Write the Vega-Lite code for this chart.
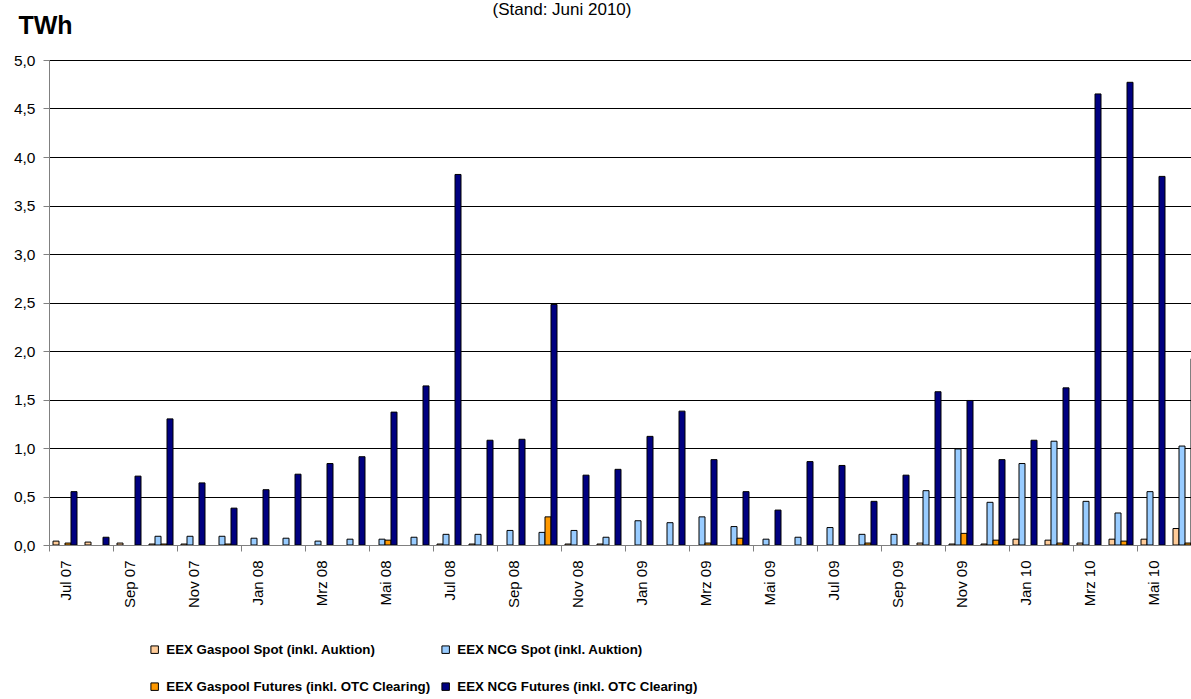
{
  "$schema": "https://vega.github.io/schema/vega-lite/v6.json",
  "width": 1142,
  "height": 485,
  "autosize": {"type": "none"},
  "padding": {"left": 49, "top": 60, "right": 0, "bottom": 154},
  "background": "white",
  "config": {"view": {"stroke": null}},
  "title": {"text": "(Stand: Juni 2010)", "fontSize": 17, "font": "Liberation Sans", "fontWeight": "normal", "color": "black", "anchor": "middle", "frame": "group", "dx": -58, "dy": 28, "offset": 5, "baseline": "bottom"},
  "data": {"values": [
    {"Monat": "Jul 07", "GS": 0.04, "NS": null, "GF": 0.02, "NF": 0.55},
    {"Monat": "Aug 07", "GS": 0.03, "NS": null, "GF": null, "NF": 0.08},
    {"Monat": "Sep 07", "GS": 0.02, "NS": null, "GF": null, "NF": 0.71},
    {"Monat": "Okt 07", "GS": 0.01, "NS": 0.09, "GF": 0.01, "NF": 1.30},
    {"Monat": "Nov 07", "GS": 0.01, "NS": 0.09, "GF": null, "NF": 0.64},
    {"Monat": "Dez 07", "GS": null, "NS": 0.09, "GF": 0.01, "NF": 0.38},
    {"Monat": "Jan 08", "GS": null, "NS": 0.07, "GF": null, "NF": 0.57},
    {"Monat": "Feb 08", "GS": null, "NS": 0.07, "GF": null, "NF": 0.73},
    {"Monat": "Mrz 08", "GS": null, "NS": 0.04, "GF": null, "NF": 0.84},
    {"Monat": "Apr 08", "GS": null, "NS": 0.06, "GF": null, "NF": 0.91},
    {"Monat": "Mai 08", "GS": null, "NS": 0.06, "GF": 0.05, "NF": 1.37},
    {"Monat": "Jun 08", "GS": null, "NS": 0.08, "GF": null, "NF": 1.64},
    {"Monat": "Jul 08", "GS": 0.01, "NS": 0.11, "GF": null, "NF": 3.82},
    {"Monat": "Aug 08", "GS": 0.01, "NS": 0.11, "GF": null, "NF": 1.08},
    {"Monat": "Sep 08", "GS": null, "NS": 0.15, "GF": null, "NF": 1.09},
    {"Monat": "Okt 08", "GS": null, "NS": 0.13, "GF": 0.29, "NF": 2.48},
    {"Monat": "Nov 08", "GS": 0.01, "NS": 0.15, "GF": null, "NF": 0.72},
    {"Monat": "Dez 08", "GS": 0.01, "NS": 0.08, "GF": null, "NF": 0.78},
    {"Monat": "Jan 09", "GS": null, "NS": 0.25, "GF": null, "NF": 1.12},
    {"Monat": "Feb 09", "GS": null, "NS": 0.23, "GF": null, "NF": 1.38},
    {"Monat": "Mrz 09", "GS": null, "NS": 0.29, "GF": 0.02, "NF": 0.88},
    {"Monat": "Apr 09", "GS": null, "NS": 0.19, "GF": 0.07, "NF": 0.55},
    {"Monat": "Mai 09", "GS": null, "NS": 0.06, "GF": null, "NF": 0.36},
    {"Monat": "Jun 09", "GS": null, "NS": 0.08, "GF": null, "NF": 0.86},
    {"Monat": "Jul 09", "GS": null, "NS": 0.18, "GF": null, "NF": 0.82},
    {"Monat": "Aug 09", "GS": null, "NS": 0.11, "GF": 0.02, "NF": 0.45},
    {"Monat": "Sep 09", "GS": null, "NS": 0.11, "GF": null, "NF": 0.72},
    {"Monat": "Okt 09", "GS": 0.02, "NS": 0.56, "GF": null, "NF": 1.58},
    {"Monat": "Nov 09", "GS": 0.01, "NS": 0.99, "GF": 0.12, "NF": 1.49},
    {"Monat": "Dez 09", "GS": 0.01, "NS": 0.44, "GF": 0.05, "NF": 0.88},
    {"Monat": "Jan 10", "GS": 0.06, "NS": 0.84, "GF": null, "NF": 1.08},
    {"Monat": "Feb 10", "GS": 0.05, "NS": 1.07, "GF": 0.02, "NF": 1.62},
    {"Monat": "Mrz 10", "GS": 0.02, "NS": 0.45, "GF": null, "NF": 4.65},
    {"Monat": "Apr 10", "GS": 0.06, "NS": 0.33, "GF": 0.04, "NF": 4.77},
    {"Monat": "Mai 10", "GS": 0.06, "NS": 0.55, "GF": null, "NF": 3.80},
    {"Monat": "Jun 10", "GS": 0.17, "NS": 1.02, "GF": 0.02, "NF": 1.92}
  ]},
  "transform": [{"fold": ["GS", "NS", "GF", "NF"], "as": ["Serie", "TWh"]}],
  "mark": {"type": "bar", "stroke": "black", "strokeWidth": 1, "clip": true},
  "encoding": {
    "x": {
      "field": "Monat", "type": "ordinal",
      "scale": {
        "domain": ["Jul 07","Aug 07","Sep 07","Okt 07","Nov 07","Dez 07","Jan 08","Feb 08","Mrz 08","Apr 08","Mai 08","Jun 08","Jul 08","Aug 08","Sep 08","Okt 08","Nov 08","Dez 08","Jan 09","Feb 09","Mrz 09","Apr 09","Mai 09","Jun 09","Jul 09","Aug 09","Sep 09","Okt 09","Nov 09","Dez 09","Jan 10","Feb 10","Mrz 10","Apr 10","Mai 10","Jun 10"],
        "range": [0, 1152], "paddingInner": 0.25, "paddingOuter": 0.125
      },
      "axis": {
        "values": ["Jul 07","Sep 07","Nov 07","Jan 08","Mrz 08","Mai 08","Jul 08","Sep 08","Nov 08","Jan 09","Mrz 09","Mai 09","Jul 09","Sep 09","Nov 09","Jan 10","Mrz 10","Mai 10"],
        "title": null, "labelAngle": -90, "labelAlign": "right", "labelBaseline": "middle",
        "bandPosition": 0, "tickOffset": -4, "labelOffset": 4,
        "tickSize": 6, "tickColor": "#808080", "domainColor": "#808080",
        "labelPadding": 9, "labelFontSize": 15, "labelFont": "Liberation Sans", "labelColor": "black", "grid": false
      }
    },
    "xOffset": {"field": "Serie", "type": "nominal", "scale": {"domain": ["GS", "NS", "GF", "NF"], "paddingInner": 0, "paddingOuter": 0}},
    "y": {
      "field": "TWh", "type": "quantitative",
      "scale": {"domain": [0, 5], "nice": false},
      "axis": {
        "title": "TWh", "titleAngle": 0, "titleAlign": "left", "titleBaseline": "alphabetic",
        "titleX": -31, "titleY": -27, "titleFontSize": 25, "titleFontWeight": "bold", "titleFont": "Liberation Sans", "titleColor": "black",
        "values": [0, 0.5, 1, 1.5, 2, 2.5, 3, 3.5, 4, 4.5, 5],
        "labelExpr": "replace(format(datum.value, '.1f'), '.', ',')",
        "grid": true, "gridColor": "black", "gridOpacity": 1,
        "tickSize": 6, "tickColor": "#808080", "domainColor": "#808080",
        "labelFontSize": 15.5, "labelFont": "Liberation Sans", "labelColor": "black", "labelPadding": 8
      }
    },
    "color": {
      "field": "Serie", "type": "nominal",
      "scale": {"domain": ["GS", "NS", "GF", "NF"], "range": ["#FFCC99", "#99CCFF", "#FF9900", "#000080"]},
      "legend": {
        "orient": "none", "legendX": 99, "legendY": 583, "columns": 2, "direction": "horizontal", "title": null,
        "symbolType": "square", "symbolSize": 56, "symbolStrokeColor": "black", "symbolStrokeWidth": 1,
        "labelFontSize": 13.3, "labelFontWeight": "bold", "labelFont": "Liberation Sans", "labelColor": "black",
        "columnPadding": 8, "rowPadding": 23, "labelOffset": 5, "padding": 0, "labelLimit": 400,
        "labelExpr": "datum.label == 'GS' ? 'EEX Gaspool Spot (inkl. Auktion)' : datum.label == 'NS' ? 'EEX NCG Spot (inkl. Auktion)' : datum.label == 'GF' ? 'EEX Gaspool Futures (inkl. OTC Clearing)' : 'EEX NCG Futures (inkl. OTC Clearing)'"
      }
    }
  }
}
